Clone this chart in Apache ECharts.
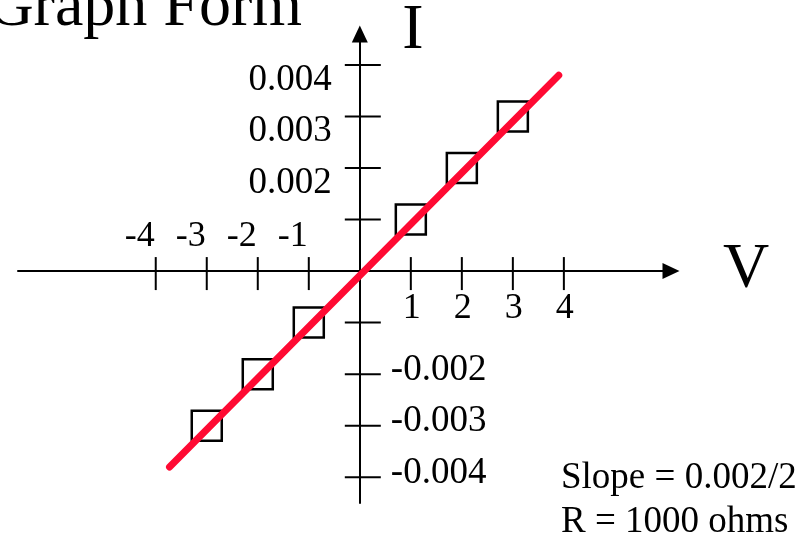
<!DOCTYPE html>
<html>
<head>
<meta charset="utf-8">
<style>
  html, body { margin: 0; padding: 0; background: #fff; }
  #chart { width: 809px; height: 536px; }
</style>
<script src="https://cdn.jsdelivr.net/npm/echarts@6/dist/echarts.min.js"></script>
</head>
<body>
<div id="chart"></div>
<script>
// Measured points of the resistor: voltage (V) against current (I)
const voltage = [-3, -2, -1, 1, 2, 3];
const current = [-0.003, -0.002, -0.001, 0.001, 0.002, 0.003];

// Ends of the fitted line
const fitV = [-3.73, 3.9];
const fitI = [-0.0038, 0.0038];

// Axis ticks and their labels
const vTicks = [-4, -3, -2, -1, 1, 2, 3, 4];
const vTickLabels = ['-4', '-3', '-2', '-1', '1', '2', '3', '4'];
const iTicks = [0.004, 0.003, 0.002, 0.001, -0.001, -0.002, -0.003, -0.004];
const iLabelValues = [0.004, 0.003, 0.002, -0.002, -0.003, -0.004];
const iLabels = ['0.004', '0.003', '0.002', '-0.002', '-0.003', '-0.004'];

const SERIF = "'Liberation Serif', 'Times New Roman', serif";

const chart = echarts.init(document.getElementById('chart'), null, { renderer: 'canvas' });

const arrowAxis = (min, max) => ({
  type: 'value',
  min: min,
  max: max,
  axisLine: {
    show: true,
    onZero: true,
    symbol: ['none', 'triangle'],
    symbolSize: [16, 17],
    lineStyle: { color: '#000', width: 2 }
  },
  axisTick: { show: false },
  axisLabel: { show: false },
  splitLine: { show: false }
});

const txt = (text, x, y, size, align) => ({
  type: 'text',
  x: x,
  y: y,
  style: { text: text, font: size + 'px ' + SERIF, fill: '#000', align: align, verticalAlign: 'middle' }
});

const option = {
  animation: false,
  backgroundColor: '#fff',
  grid: { left: 18, top: 34, width: 653, height: 469, containLabel: false },
  xAxis: arrowAxis(-6.7, 6.1),
  yAxis: arrowAxis(-0.0045, 0.0046),
  graphic: [
    txt('Graph Form', 302, 8, 64, 'right'),
    txt('I', 413, 31, 64, 'center'),
    txt('V', 746, 270, 64, 'center'),
    txt('Slope = 0.002/2', 561, 478, 37, 'left'),
    txt('R = 1000 ohms', 561, 522, 37, 'left')
  ],
  series: [
    {
      // tick marks crossing the horizontal axis
      type: 'custom',
      z: 1,
      silent: true,
      data: vTicks.map(v => [v]),
      renderItem: (params, api) => {
        const p = api.coord([api.value(0), 0]);
        return {
          type: 'line',
          shape: { x1: p[0], y1: p[1] - 14, x2: p[0], y2: p[1] + 19 },
          style: { stroke: '#000', lineWidth: 2 }
        };
      }
    },
    {
      // tick marks crossing the vertical axis
      type: 'custom',
      z: 1,
      silent: true,
      data: iTicks.map(v => [0, v]),
      renderItem: (params, api) => {
        const p = api.coord([0, api.value(1)]);
        return {
          type: 'line',
          shape: { x1: p[0] - 15, y1: p[1], x2: p[0] + 21, y2: p[1] },
          style: { stroke: '#000', lineWidth: 2 }
        };
      }
    },
    {
      // voltage labels: negatives above the axis, positives below
      type: 'custom',
      z: 1,
      silent: true,
      data: vTicks.map((v, i) => [v, i]),
      renderItem: (params, api) => {
        const v = api.value(0);
        const p = api.coord([v, 0]);
        const neg = v < 0;
        return {
          type: 'text',
          x: neg ? p[0] - 1 : p[0] + 1,
          y: neg ? p[1] - 35 : p[1] + 37,
          style: {
            text: vTickLabels[api.value(1)],
            font: '36px ' + SERIF,
            fill: '#000',
            align: neg ? 'right' : 'center',
            verticalAlign: 'middle'
          }
        };
      }
    },
    {
      // current labels: positives left of the axis, negatives right
      type: 'custom',
      z: 1,
      silent: true,
      data: iLabelValues.map((v, i) => [0, v, i]),
      renderItem: (params, api) => {
        const v = api.value(1);
        const p = api.coord([0, v]);
        const pos = v > 0;
        return {
          type: 'text',
          x: pos ? p[0] - 28 : p[0] + 31,
          y: pos ? p[1] + 15 : p[1] - 4,
          style: {
            text: iLabels[api.value(2)],
            font: '37px ' + SERIF,
            fill: '#000',
            align: pos ? 'right' : 'left',
            verticalAlign: 'middle'
          }
        };
      }
    },
    {
      type: 'scatter',
      z: 2,
      data: voltage.map((v, i) => [v, current[i]]),
      symbol: 'rect',
      symbolSize: 30,
      itemStyle: { color: 'rgba(0,0,0,0)', borderColor: '#000', borderWidth: 2.5, opacity: 1 }
    },
    {
      type: 'line',
      z: 3,
      data: fitV.map((v, i) => [v, fitI[i]]),
      showSymbol: false,
      symbol: 'none',
      lineStyle: { color: '#ff0a33', width: 7, cap: 'round' }
    }
  ]
};

chart.setOption(option);
</script>
</body>
</html>
